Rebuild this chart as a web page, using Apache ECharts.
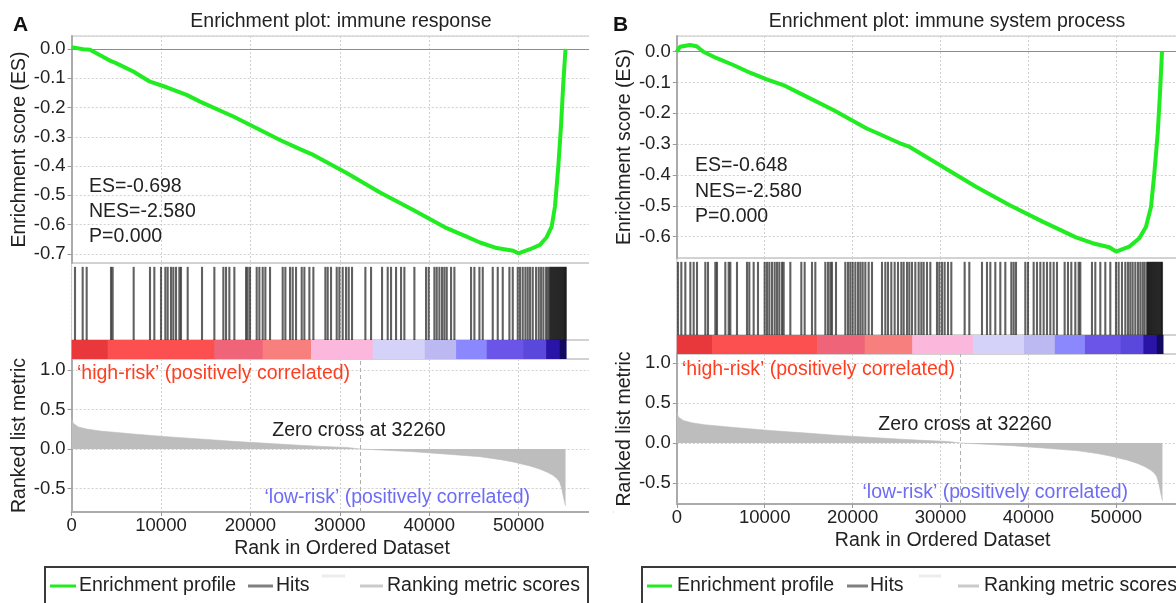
<!DOCTYPE html>
<html><head><meta charset="utf-8">
<script src="https://cdn.jsdelivr.net/npm/echarts@6/dist/echarts.min.js"></script>
<style>html,body{margin:0;padding:0;background:#fff;overflow:hidden;width:1176px;height:603px}#c{width:1240px;height:603px}</style>
</head><body><div id="c"></div>
<script>
// ---------------- data ----------------
const titleA = 'Enrichment plot: immune response';
const titleB = 'Enrichment plot: immune system process';
const statsA = ['ES=-0.698', 'NES=-2.580', 'P=0.000'];
const statsB = ['ES=-0.648', 'NES=-2.580', 'P=0.000'];
const zeroCross = 32260;
const xMax = 60500;
const xTickVals = [0, 10000, 20000, 30000, 40000, 50000];
const esTicksA = [0, -0.1, -0.2, -0.3, -0.4, -0.5, -0.6, -0.7];
const esTicksB = [0, -0.1, -0.2, -0.3, -0.4, -0.5, -0.6];
const rankTicks = [1.0, 0.5, 0.0, -0.5];

// running enrichment score, panel A
const esRankA = [0, 1310, 2060, 4480, 4850, 6900, 8770, 10640, 12870, 14360, 18090, 21820, 23310, 25550, 27040, 30770, 34500, 38220, 41960, 44190, 45680, 47550, 49410, 49970, 51280, 52390, 53140, 53700, 54070, 54440, 54740, 55000, 55250];
const esValA  = [0.006, -0.001, -0.003, -0.043, -0.047, -0.077, -0.112, -0.131, -0.157, -0.180, -0.231, -0.288, -0.311, -0.342, -0.362, -0.424, -0.490, -0.550, -0.612, -0.641, -0.661, -0.680, -0.689, -0.698, -0.684, -0.669, -0.643, -0.607, -0.538, -0.402, -0.265, -0.117, 0.0];
// running enrichment score, panel B
const esRankB = [0, 360, 1500, 2260, 3020, 4540, 6430, 8330, 10230, 12120, 14020, 17810, 21600, 22660, 25390, 26450, 30250, 34040, 37830, 41620, 45420, 47310, 49210, 49970, 51480, 52620, 53380, 53950, 54330, 54710, 54970, 55200];
const esValB  = [0.0, 0.016, 0.022, 0.018, 0.0, -0.021, -0.043, -0.068, -0.090, -0.108, -0.135, -0.189, -0.249, -0.262, -0.297, -0.308, -0.373, -0.438, -0.497, -0.551, -0.602, -0.621, -0.634, -0.648, -0.632, -0.605, -0.568, -0.503, -0.394, -0.265, -0.135, 0.0];

// hit positions (rank of gene-set members)
const hitsA = [380, 1238, 1686, 4407, 4594, 6943, 8770, 9255, 10001, 10486, 10747, 11120, 11381, 11680, 12053, 12239, 12985, 14588, 15968, 16975, 17273, 17646, 18206, 19511, 19697, 19958, 20704, 21002, 21375, 21674, 22196, 23613, 23911, 24433, 24732, 25105, 25739, 26037, 26596, 27044, 28386, 28647, 29020, 29654, 29952, 30325, 30698, 30997, 31370, 32861, 33495, 34726, 35360, 35733, 36292, 36851, 37224, 38343, 39648, 39947, 40581, 40842, 41140, 41439, 41700, 41961, 42446, 42819, 44683, 45056, 45616, 45989, 47107, 47667, 48226, 48972, 49345, 49904, 50165, 50463, 50762, 51023, 51284, 51582, 51955, 52254, 52515, 52776, 53074, 53261, 53450, 53560, 53670, 53780, 53890, 54000, 54110, 54220, 54330, 54440, 54550, 54660, 54770, 54880, 54990, 55100, 55200, 55290];
const hitsB = [137, 516, 971, 1540, 1919, 2298, 3246, 3549, 4384, 4573, 5521, 5900, 6090, 6848, 7986, 8251, 8744, 9237, 9996, 10261, 10527, 10830, 11134, 11399, 11664, 11968, 12158, 12916, 14167, 14546, 15381, 15760, 16897, 17201, 17466, 17656, 18111, 19172, 19476, 19741, 20007, 20310, 20613, 20879, 21144, 21448, 21827, 22206, 23344, 23723, 24026, 24405, 24785, 25164, 25543, 25809, 26188, 26453, 26757, 27136, 27515, 27819, 28084, 28463, 28842, 29601, 29866, 30169, 30473, 30852, 31231, 32748, 33279, 34720, 35288, 35668, 36236, 36805, 37374, 38057, 38322, 38588, 39650, 39953, 40598, 40977, 41356, 41735, 42114, 42493, 42873, 43252, 44124, 44503, 44882, 45337, 45716, 45906, 47233, 47612, 48181, 48750, 49319, 49964, 50267, 50646, 51025, 51329, 51594, 51860, 52163, 52466, 52732, 52997, 53225, 53490, 53600, 53710, 53820, 53930, 54040, 54150, 54260, 54370, 54480, 54590, 54700, 54810, 54920, 55030, 55140, 55200];

// heat bar segments (rank boundaries) of the ranked list
const heatBreaks = [0, 4035, 15968, 21375, 26783, 33682, 39500, 43006, 46436, 50500, 53074, 54600, 55300];

// ranked list metric (shared by both panels)
const rankPos = [0, 190, 750, 1690, 3180, 6900, 10640, 14360, 18090, 21820, 25550, 28000, 30770, 32260, 35000, 38220, 42000, 45680, 48000, 49410, 51280, 52400, 53140, 53800, 54260, 54600, 54820, 55080, 55250];
const rankVal = [0.389, 0.325, 0.28, 0.253, 0.228, 0.19, 0.156, 0.127, 0.097, 0.072, 0.047, 0.033, 0.02, 0.0, -0.015, -0.034, -0.065, -0.097, -0.135, -0.165, -0.215, -0.255, -0.29, -0.33, -0.37, -0.42, -0.5, -0.64, -0.72];

// ---------------- styling / layout ----------------
const FF = "'Liberation Sans', Arial, sans-serif";
const heatPalette = ['#e8383c', '#fc5050', '#ef6478', '#f7807f', '#fcb8dc', '#d4d2f8', '#bcb8f2', '#8a88fc', '#6a55e8', '#5a48dc', '#2a14a8', '#120a60'];
const GREEN = '#21ec21';
const gridLine = {show: true, lineStyle: {color: '#d0d0d0', type: [2, 2], width: 1}};

const zip = (a, b) => a.map((v, i) => [v, b[i]]);
const fmt = (ticks, dec) => v => {
  const t = ticks.find(t => Math.abs(t - v) < 1e-6);
  return t === undefined ? '' : (Math.abs(t) < 1e-9 ? 0 : t).toFixed(dec);
};

const panels = [
  {left: 71.6, width: xMax * 0.00894, es: [36, 227, -0.731, 0.044], hits: [263, 77], heat: [340, 19], rank: [359, 153, -0.797, 1.139],
   esRank: esRankA, esVal: esValA, esTicks: esTicksA, hits_: hitsA},
  {left: 676.8, width: xMax * 0.00879, es: [36, 222, -0.669, 0.051], hits: [258, 77], heat: [335, 19], rank: [354, 150, -0.7625, 1.1125],
   esRank: esRankB, esVal: esValB, esTicks: esTicksB, hits_: hitsB}
];

const grids = [], xAxes = [], yAxes = [], series = [];
panels.forEach((p, pi) => {
  const base = pi * 4;
  const gs = [[p.es[0], p.es[1]], p.hits, p.heat, [p.rank[0], p.rank[1]]];
  gs.forEach(g => grids.push({left: p.left, top: g[0], width: p.width, height: g[1], show: true, borderColor: '#c4c4c4', borderWidth: 1, containLabel: false}));
  for (let k = 0; k < 4; k++) {
    const isRank = k === 3;
    xAxes.push({
      type: 'value', gridIndex: base + k, min: 0, max: xMax, minInterval: 10000, maxInterval: 10000,
      axisLine: {show: isRank, onZero: false, lineStyle: {color: '#ababab', width: 2}},
      axisTick: {show: isRank, length: 4, lineStyle: {color: '#999'}},
      axisLabel: {show: isRank, margin: 4, fontSize: 18.5, fontFamily: FF, color: '#222', formatter: fmt(xTickVals, 0), showMaxLabel: false},
      splitLine: k === 2 ? {show: false} : gridLine,
      name: isRank ? 'Rank in Ordered Dataset' : '', nameLocation: 'middle', nameGap: 27,
      nameTextStyle: {fontSize: 19.5, fontFamily: FF, color: '#222'}
    });
  }
  // ES y
  yAxes.push({type: 'value', gridIndex: base, min: p.es[2], max: p.es[3], minInterval: 0.1, maxInterval: 0.1,
    axisLine: {show: true, onZero: false, lineStyle: {color: '#ababab', width: 2}},
    axisTick: {show: true, length: 4, lineStyle: {color: '#999'}},
    axisLabel: {margin: 6, fontSize: 18.5, fontFamily: FF, color: '#222', formatter: fmt(p.esTicks, 1), showMinLabel: false, showMaxLabel: false},
    splitLine: gridLine,
    name: 'Enrichment score (ES)', nameLocation: 'middle', nameGap: 42,
    nameTextStyle: {fontSize: 19.5, fontFamily: FF, color: '#222'}});
  yAxes.push({type: 'value', gridIndex: base + 1, min: 0, max: 1, show: false, splitLine: {show: false}});
  yAxes.push({type: 'value', gridIndex: base + 2, min: 0, max: 1, show: false, splitLine: {show: false}});
  yAxes.push({type: 'value', gridIndex: base + 3, min: p.rank[2], max: p.rank[3], minInterval: 0.5, maxInterval: 0.5,
    axisLine: {show: true, onZero: false, lineStyle: {color: '#ababab', width: 2}},
    axisTick: {show: true, length: 4, lineStyle: {color: '#999'}},
    axisLabel: {margin: 6, fontSize: 18.5, fontFamily: FF, color: '#222', formatter: fmt(rankTicks, 1), showMinLabel: false, showMaxLabel: false},
    splitLine: gridLine,
    name: 'Ranked list metric', nameLocation: 'middle', nameGap: 42,
    nameTextStyle: {fontSize: 19.5, fontFamily: FF, color: '#222'}});

  series.push({type: 'line', xAxisIndex: base, yAxisIndex: base, data: zip(p.esRank, p.esVal), symbol: 'none', z: 5,
    lineStyle: {color: GREEN, width: 4}, itemStyle: {color: GREEN},
    markLine: {silent: true, symbol: 'none', label: {show: false}, lineStyle: {color: '#8c8c8c', type: 'solid', width: 1.2},
      data: [{yAxis: 0}]}});
  series.push({type: 'custom', xAxisIndex: base + 1, yAxisIndex: base + 1, data: p.hits_.map(r => [r, 0]),
    encode: {x: 0, y: 1},
    renderItem: (params, api) => {
      const a = api.coord([api.value(0), 0]);
      const b = api.coord([api.value(0), 0.95]);
      return {type: 'line', shape: {x1: a[0], y1: a[1], x2: b[0], y2: b[1]}, style: {stroke: 'rgba(0,0,0,0.62)', lineWidth: 2.1}};
    }});
  series.push({type: 'custom', xAxisIndex: base + 2, yAxisIndex: base + 2,
    data: heatBreaks.slice(0, -1).map((s, i) => [s, heatBreaks[i + 1], i]),
    encode: {x: [0, 1], y: 2},
    renderItem: (params, api) => {
      const a = api.coord([api.value(0), 1]);
      const b = api.coord([api.value(1), 0]);
      return {type: 'rect', shape: {x: a[0], y: a[1], width: b[0] - a[0] + 0.6, height: b[1] - a[1]},
        style: {fill: heatPalette[api.value(2)]}};
    }});
  series.push({type: 'line', xAxisIndex: base + 3, yAxisIndex: base + 3, data: zip(rankPos, rankVal), symbol: 'none',
    lineStyle: {color: '#bdbdbd', width: 0.6}, areaStyle: {color: '#bdbdbd', opacity: 1}, itemStyle: {color: '#bdbdbd'},
    markLine: {silent: true, symbol: 'none', label: {show: false}, lineStyle: {color: '#b0b0b0', type: [4, 3], width: 1},
      data: [{xAxis: zeroCross}]}});
});

// ---------------- text / legend graphics ----------------
const T = (text, x, y, opt) => Object.assign({type: 'text', x, y, z: 200,
  style: Object.assign({text, fill: '#222', font: `19.5px ${FF}`, align: 'left', verticalAlign: 'middle'}, opt || {})});
const L = (x1, x2, y, color) => ({type: 'line', z: 200, shape: {x1, y1: y, x2, y2: y}, style: {stroke: color, lineWidth: 3}});

const graphics = [
  // mask of panel A clipped on its right side
  {type: 'rect', z: 150, shape: {x: 589, y: 28, width: 24, height: 500}, style: {fill: '#fff'}},
  T('A', 13, 25, {font: `bold 21px ${FF}`, fill: '#111'}),
  T('B', 613, 25, {font: `bold 21px ${FF}`, fill: '#111'}),
  T(titleA, 341, 22, {align: 'center'}),
  T(titleB, 947, 22, {align: 'center'}),
  T(statsA[0], 89, 187), T(statsA[1], 89, 212), T(statsA[2], 89, 237),
  T(statsB[0], 695, 166), T(statsB[1], 695, 192), T(statsB[2], 695, 217),
  T('\u2018high-risk\u2019 (positively correlated)', 77, 374, {fill: '#ff3d1f'}),
  T('\u2018low-risk\u2019 (positively correlated)', 530, 498, {fill: '#6e6bf5', align: 'right'}),
  T('Zero cross at ' + zeroCross, 359, 431, {align: 'center'}),
  T('\u2018high-risk\u2019 (positively correlated)', 682, 370, {fill: '#ff3d1f'}),
  T('\u2018low-risk\u2019 (positively correlated)', 1128, 493, {fill: '#6e6bf5', align: 'right'}),
  T('Zero cross at ' + zeroCross, 965, 425, {align: 'center'}),
  // legend A
  {type: 'rect', z: 200, shape: {x: 45, y: 567, width: 543, height: 60}, style: {fill: 'none', stroke: '#3a3a3a', lineWidth: 2}},
  L(50, 76, 586, GREEN), T('Enrichment profile', 79, 586),
  L(248, 273, 586, '#808080'), T('Hits', 276, 586),
  L(322, 345, 576, '#ececec'),
  L(360, 383, 586, '#cacaca'), T('Ranking metric scores', 387, 586),
  // legend B
  {type: 'rect', z: 200, shape: {x: 642, y: 567, width: 600, height: 60}, style: {fill: 'none', stroke: '#3a3a3a', lineWidth: 2}},
  L(647, 672, 586, GREEN), T('Enrichment profile', 677, 586),
  L(847, 868, 586, '#808080'), T('Hits', 870, 586),
  L(919, 941, 576, '#ececec'),
  L(958, 979, 586, '#cacaca'), T('Ranking metric scores', 984, 586)
];

const chart = echarts.init(document.getElementById('c'), null, {renderer: 'canvas'});
chart.setOption({
  animation: false,
  backgroundColor: '#fff',
  textStyle: {fontFamily: FF},
  grid: grids, xAxis: xAxes, yAxis: yAxes, series: series,
  graphic: graphics
});
</script></body></html>
